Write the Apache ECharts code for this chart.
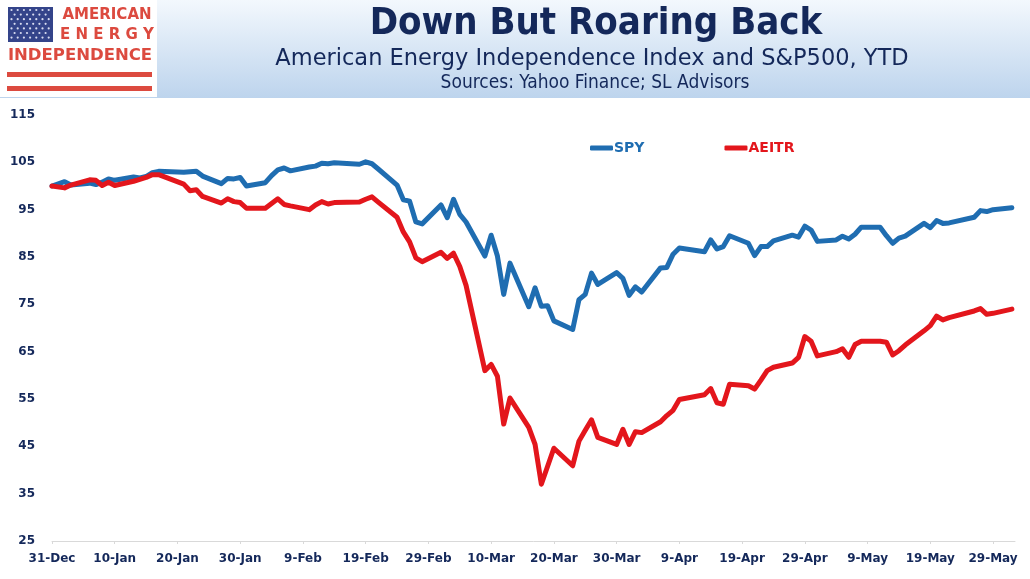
<!DOCTYPE html>
<html><head><meta charset="utf-8">
<script src="https://cdn.jsdelivr.net/npm/echarts@6/dist/echarts.min.js"></script>
<style>html,body{margin:0;padding:0;background:#fff}#c{width:1030px;height:579px}</style>
</head><body><div id="c"></div>
<script>
const baseDate = '2019-12-31';
const dates = [
 '2019-12-31',
 '2020-01-02','2020-01-03','2020-01-06','2020-01-07','2020-01-08','2020-01-09','2020-01-10','2020-01-13','2020-01-14','2020-01-15','2020-01-16','2020-01-17','2020-01-21','2020-01-22','2020-01-23','2020-01-24','2020-01-27','2020-01-28','2020-01-29','2020-01-30','2020-01-31',
 '2020-02-03','2020-02-04','2020-02-05','2020-02-06','2020-02-07','2020-02-10','2020-02-11','2020-02-12','2020-02-13','2020-02-14','2020-02-18','2020-02-19','2020-02-20','2020-02-21','2020-02-24','2020-02-25','2020-02-26','2020-02-27','2020-02-28',
 '2020-03-02','2020-03-03','2020-03-04','2020-03-05','2020-03-06','2020-03-09','2020-03-10','2020-03-11','2020-03-12','2020-03-13','2020-03-16','2020-03-17','2020-03-18','2020-03-19','2020-03-20','2020-03-23','2020-03-24','2020-03-25','2020-03-26','2020-03-27','2020-03-30','2020-03-31',
 '2020-04-01','2020-04-02','2020-04-03','2020-04-06','2020-04-07','2020-04-08','2020-04-09','2020-04-13','2020-04-14','2020-04-15','2020-04-16','2020-04-17','2020-04-20','2020-04-21','2020-04-22','2020-04-23','2020-04-24','2020-04-27','2020-04-28','2020-04-29','2020-04-30',
 '2020-05-01','2020-05-04','2020-05-05','2020-05-06','2020-05-07','2020-05-08','2020-05-11','2020-05-12','2020-05-13','2020-05-14','2020-05-15','2020-05-18','2020-05-19','2020-05-20','2020-05-21','2020-05-22','2020-05-26','2020-05-27','2020-05-28','2020-05-29',
 '2020-06-01'
];
const spy = [
 100.0,
 100.9,100.2,100.6,100.3,100.8,101.5,101.2,101.9,101.7,102.0,102.8,103.1,102.9,103.0,103.1,102.1,100.5,101.6,101.5,101.8,100.0,
 100.7,102.2,103.4,103.8,103.2,104.0,104.2,104.8,104.7,104.9,104.6,105.1,104.7,103.6,100.2,97.1,96.8,92.4,92.0,
 96.0,93.3,97.2,94.0,92.4,85.2,89.6,85.2,77.1,83.7,74.5,78.5,74.6,74.7,71.5,69.7,76.0,77.1,81.6,79.2,81.7,80.5,
 76.9,78.7,77.6,82.7,82.8,85.6,86.9,86.1,88.6,86.7,87.2,89.5,87.9,85.3,87.2,87.2,88.4,89.6,89.2,91.5,90.7,
 88.3,88.6,89.4,88.8,89.8,91.3,91.3,89.5,87.9,89.0,89.4,92.1,91.2,92.7,92.1,92.2,93.4,94.8,94.6,95.0,
 95.4
];
const aeitr = [
 100.0,
 99.6,100.2,101.3,101.2,100.1,100.8,100.1,101.0,101.4,101.8,102.4,102.4,100.4,99.0,99.2,97.8,96.4,97.3,96.7,96.5,95.3,
 95.3,96.3,97.3,96.1,95.8,95.0,96.0,96.7,96.2,96.5,96.6,97.2,97.7,96.6,93.4,90.3,88.2,84.8,84.0,
 86.0,84.7,85.8,83.0,79.0,61.0,62.3,59.8,49.7,55.2,49.0,45.4,37.0,40.8,44.6,40.9,46.1,48.4,50.6,46.9,45.4,48.6,
 45.4,48.1,47.9,50.2,51.5,52.6,54.9,55.9,57.2,54.2,53.9,58.1,57.8,57.1,59.0,61.0,61.7,62.6,63.8,68.2,67.2,
 64.1,65.0,65.6,63.8,66.5,67.2,67.2,67.0,64.3,65.2,66.4,69.4,70.5,72.5,71.7,72.2,73.6,74.1,72.9,73.1,
 74.0
];
const seriesNames = ['SPY','AEITR'];
const monthNames = ['Jan','Feb','Mar','Apr','May','Jun','Jul','Aug','Sep','Oct','Nov','Dec'];
const xMaxDay = 153.5;

const DAY = 86400000;
const base = Date.parse(baseDate);
const dayOf = d => Math.round((Date.parse(d) - base) / DAY);
const fmtDay = v => { const dt = new Date(base + v*DAY); return dt.getUTCDate() + '-' + monthNames[dt.getUTCMonth()]; };

const BLUE = '#1f6db1', RED = '#e3161c', NAVY = '#14285a', LOGORED = '#dc4a3f';

const chart = echarts.init(document.getElementById('c'), null, {renderer:'canvas'});

// logo decoration
const logo = [];
logo.push({type:'rect', shape:{x:0,y:0,width:157,height:97}, style:{fill:'#ffffff'}});
logo.push({type:'rect', shape:{x:8,y:7,width:45,height:35}, style:{fill:'#34448a'}});
for (let r=0;r<7;r++){ for(let c=0;c<(r%2?6:7);c++){
  logo.push({type:'circle', shape:{cx:11.5+c*6.2+(r%2?3.1:0), cy:10+r*4.6, r:1.1}, style:{fill:'#d8dcf0'}});
}}
logo.push({type:'text', style:{x:107,y:15,text:'AMERICAN',fill:LOGORED,font:'bold 15px "DejaVu Sans"',textAlign:'center',textVerticalAlign:'middle'}});
logo.push({type:'text', style:{x:107,y:35,text:'E N E R G Y',fill:LOGORED,font:'bold 15px "DejaVu Sans"',textAlign:'center',textVerticalAlign:'middle'}});
logo.push({type:'text', style:{x:80,y:56,text:'INDEPENDENCE',fill:LOGORED,font:'bold 16.5px "DejaVu Sans"',textAlign:'center',textVerticalAlign:'middle'}});
logo.push({type:'rect', shape:{x:7,y:72,width:145,height:5}, style:{fill:LOGORED}});
logo.push({type:'rect', shape:{x:7,y:86,width:145,height:5}, style:{fill:LOGORED}});

const option = {
  animation:false,
  backgroundColor:'#ffffff',
  graphic:[
    {type:'rect', shape:{x:0,y:0,width:1030,height:98}, z:-10, silent:true,
     style:{fill:new echarts.graphic.LinearGradient(0,0,0,1,[{offset:0,color:'#f3f8fd'},{offset:1,color:'#bdd4ed'}])}},
    ...logo,
    {type:'text', style:{x:596,y:24,text:'Down But Roaring Back',fill:NAVY,font:'bold 38px "DejaVu Sans Condensed", "DejaVu Sans"',textAlign:'center',textVerticalAlign:'middle'}},
    {type:'text', style:{x:592,y:59,text:'American Energy Independence Index and S&P500, YTD',fill:NAVY,font:'22.5px "DejaVu Sans"',textAlign:'center',textVerticalAlign:'middle'}},
    {type:'text', style:{x:595,y:83,text:'Sources: Yahoo Finance; SL Advisors',fill:NAVY,font:'19px "DejaVu Sans Condensed", "DejaVu Sans"',textAlign:'center',textVerticalAlign:'middle'}}
  ],
  legend:{
    left:585, top:136, itemGap:80, itemWidth:23, itemHeight:5, icon:'roundRect',
    textStyle:{fontFamily:'DejaVu Sans', fontWeight:'bold', fontSize:14, padding:[0,0,0,-4]},
    data:[{name:seriesNames[0], textStyle:{color:BLUE}},{name:seriesNames[1], textStyle:{color:RED}}]
  },
  grid:{left:52, right:15, top:115, bottom:38},
  xAxis:{
    type:'value', min:0, max:xMaxDay, interval:10,
    axisLine:{show:true, lineStyle:{color:'#d9d9d9', width:1}},
    axisTick:{show:true, length:3, lineStyle:{color:'#d9d9d9'}},
    splitLine:{show:false},
    axisLabel:{formatter:v => (v%10===0 ? fmtDay(v) : ''), showMaxLabel:false, color:NAVY, fontFamily:'DejaVu Sans', fontWeight:'bold', fontSize:12, margin:12}
  },
  yAxis:{
    type:'value', min:25, max:115, interval:10,
    axisLine:{show:false}, axisTick:{show:false}, splitLine:{show:false},
    axisLabel:{color:NAVY, fontFamily:'DejaVu Sans', fontWeight:'bold', fontSize:12, margin:17}
  },
  series:[
    {name:seriesNames[0], type:'line', showSymbol:false, symbol:'none', color:BLUE,
     lineStyle:{width:5, color:BLUE, cap:'round', join:'round'},
     data:dates.map((d,i)=>[dayOf(d), spy[i]])},
    {name:seriesNames[1], type:'line', showSymbol:false, symbol:'none', color:RED,
     lineStyle:{width:5, color:RED, cap:'round', join:'round'},
     data:dates.map((d,i)=>[dayOf(d), aeitr[i]])}
  ]
};
chart.setOption(option);
</script></body></html>
